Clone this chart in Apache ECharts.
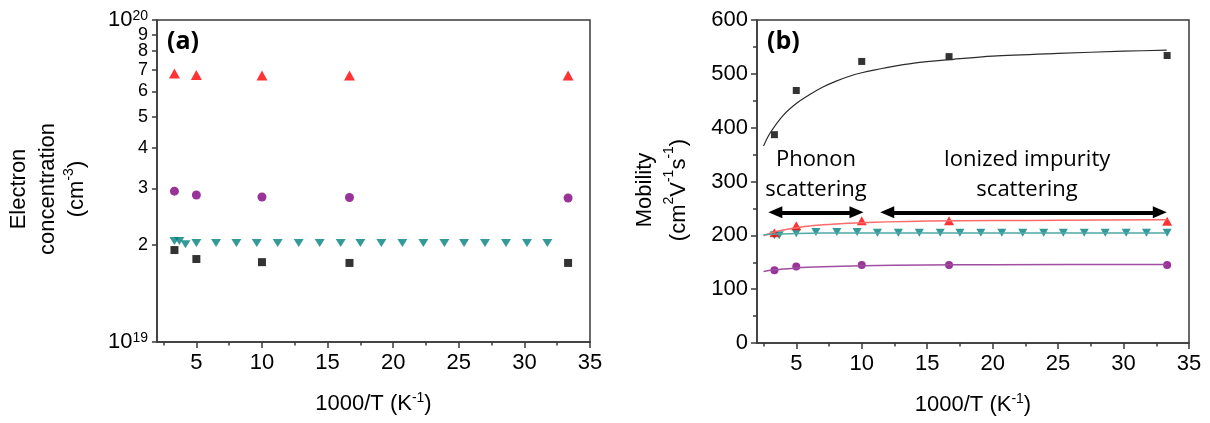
<!DOCTYPE html>
<html><head><meta charset="utf-8">
<script src="https://cdn.jsdelivr.net/npm/echarts@6/dist/echarts.min.js"></script>
<style>html,body{margin:0;padding:0;background:#fff}#c{width:1210px;height:423px}</style>
</head><body><div id="c"></div>
<script>
// ---------- tick values ----------
const xTickLabels = [5, 10, 15, 20, 25, 30, 35];
const xMinorTicks = [2.5, 7.5, 12.5, 17.5, 22.5, 27.5, 32.5];
const concTicks = [1, 2, 3, 4, 5, 6, 7, 8];  // x 1e19 cm^-3
const concTick9 = [9];                       // x 1e19 cm^-3
const concTopTick = [9.99999];               // x 1e19 cm^-3  (= 10^20)

// ---------- panel (a): electron concentration (x 1e19 cm^-3) ----------
const xSamples = [3.33, 5, 10, 16.67, 33.33];
const concBlack = [1.93, 1.81, 1.77, 1.76, 1.76];
const concRed = [6.82, 6.75, 6.72, 6.72, 6.72];
const concPurple = [2.94, 2.86, 2.82, 2.81, 2.80];
const xTealA = [3.33, 3.7, 4.17, 5, 6.5, 8.05, 9.6, 11.2, 12.8, 14.4, 16, 17.5, 19.1, 20.7, 22.3, 23.9, 25.4, 27, 28.6, 30.2, 31.75];
const concTeal = [2.06, 2.06, 2.01, 2.03, 2.03, 2.03, 2.03, 2.03, 2.03, 2.03, 2.03, 2.03, 2.03, 2.03, 2.03, 2.03, 2.03, 2.03, 2.03, 2.03, 2.03];

// ---------- panel (b): mobility (cm^2 V^-1 s^-1) ----------
const mobBlack = [387, 469, 523, 532, 534];
const mobRed = [205, 218, 227, 227, 226];
const mobPurple = [135, 142, 145, 145, 145];
const xTealB = [3.33, 3.7, 5, 6.5, 8.1, 9.65, 11.2, 12.8, 14.4, 16, 17.5, 19.1, 20.7, 22.3, 23.9, 25.4, 27, 28.6, 30.2, 31.75, 33.33];
const mobTeal = [200, 200, 204, 206, 206, 206, 205, 205, 205, 205, 205, 205, 205, 205, 205, 205, 205, 205, 205, 205, 205];

// fitted curves
const fitBlackX = [2.5, 3, 4, 5, 6, 7, 8, 9, 10, 12, 14, 17, 20, 25, 30, 33.3];
const fitBlackY = [366, 390, 423, 445, 461, 475, 486, 495, 502, 512, 520, 527, 533, 538, 542, 544];
const fitRedX = [2.5, 3, 4, 5, 6, 7, 8, 10, 12, 15, 20, 25, 33.3];
const fitRedY = [199, 204, 210, 214, 217.5, 219.5, 221, 223.5, 225, 226.5, 227.5, 228, 229];
const fitTealX = [2.5, 3.5, 5, 7, 10, 33.3];
const fitTealY = [201, 202.5, 203.5, 204.2, 204.5, 204.5];
const fitPurpleX = [2.5, 3, 4, 5, 7, 10, 15, 20, 33.3];
const fitPurpleY = [133, 135, 137.5, 139.5, 141.5, 143.5, 145, 145.5, 146];

// annotation arrows (data coords of the two arrow-head centres) [x1, x2, y]
const arrowPhonon = [3.4, 9.6, 242.8];
const arrowIonized = [11.95, 32.77, 242.8];

const zip = (xs, ys, k) => xs.map((x, i) => [x, ys[i] * (k || 1)]);

const FONT = '"Liberation Sans", Arial, sans-serif';
const AX = '#3a3a3a';
const supRich = { s: { fontSize: 14, verticalAlign: 'top', lineHeight: 14, fontFamily: FONT, color: '#000' } };

function xAxisMain(grid) {
  return {
    gridIndex: grid, type: 'value', min: 2, max: 35,
    axisLine: { show: true, onZero: false, lineStyle: { color: AX, width: 1.5 } },
    axisTick: { show: true, customValues: xTickLabels, length: 6, lineStyle: { color: AX, width: 1.5 } },
    axisLabel: { customValues: xTickLabels, margin: 10, fontSize: 22, fontFamily: FONT, color: '#000', hideOverlap: false },
    splitLine: { show: false },
    name: '1000/T (K{s|-1})', nameLocation: 'middle', nameGap: 49,
    nameTextStyle: { fontSize: 22, fontFamily: FONT, color: '#000', lineHeight: 26, rich: supRich }
  };
}
function xAxisMinor(grid) {
  return {
    gridIndex: grid, type: 'value', min: 2, max: 35, position: 'bottom',
    axisLine: { show: false },
    axisTick: { show: true, customValues: xMinorTicks, length: 3.5, lineStyle: { color: AX, width: 1.5 } },
    axisLabel: { show: false }, splitLine: { show: false }
  };
}

const logLabelFormatter = function (v) {
  const m = Math.round(v / 1e19);
  if (m === 1) return '{b|10}{s|19}';
  if (m === 10) return '{b|10}{s|20}';
  return '{d|' + m + '}';
};
const logLabelRich = {
  b: { fontSize: 22, fontFamily: FONT, color: '#000', lineHeight: 22 },
  s: { fontSize: 14, fontFamily: FONT, color: '#000', verticalAlign: 'top', lineHeight: 12 },
  d: { fontSize: 18, fontFamily: FONT, color: '#000', lineHeight: 14 }
};
// overlay log axis that only carries extra labels (so no label hides another)
function logLabelOverlay(values) {
  return {
    gridIndex: 0, type: 'log', logBase: 10, min: 1e19, max: 1e20, position: 'left',
    axisLine: { show: false }, axisTick: { show: false }, splitLine: { show: false },
    axisLabel: {
      customValues: values.map(v => v * 1e19), margin: 9, color: '#000', fontFamily: FONT,
      hideOverlap: false, showMinLabel: true, showMaxLabel: true,
      formatter: logLabelFormatter, rich: logLabelRich
    }
  };
}

const nameRich = {
  s: { font: '14px "Liberation Sans", Arial, sans-serif', fill: '#000', verticalAlign: 'top', lineHeight: 14 }
};

const chart = echarts.init(document.getElementById('c'), null, { renderer: 'canvas' });
chart.setOption({
  animation: false,
  backgroundColor: '#fff',
  grid: [
    { left: 157, top: 20, width: 433, height: 322, show: true, borderColor: AX, borderWidth: 1.5, backgroundColor: 'transparent' },
    { left: 757, top: 20, width: 432, height: 323, show: true, borderColor: AX, borderWidth: 1.5, backgroundColor: 'transparent' }
  ],
  xAxis: [xAxisMain(0), xAxisMinor(0), xAxisMain(1), xAxisMinor(1)],
  yAxis: [
    {
      gridIndex: 0, type: 'log', logBase: 10, min: 1e19, max: 1e20,
      axisLine: { show: true, onZero: false, lineStyle: { color: AX, width: 1.5 } },
      axisTick: { show: true, customValues: concTicks.concat(concTick9, concTopTick).map(v => v * 1e19), length: 5, lineStyle: { color: AX, width: 1.5 } },
      axisLabel: {
        customValues: concTicks.map(v => v * 1e19), margin: 9, color: '#000', fontFamily: FONT,
        hideOverlap: false, showMinLabel: true, showMaxLabel: true,
        formatter: logLabelFormatter, rich: logLabelRich
      },
      splitLine: { show: false }
    },
    {
      gridIndex: 1, type: 'value', min: 0, max: 600, interval: 100,
      axisLine: { show: true, onZero: false, lineStyle: { color: AX, width: 1.5 } },
      axisTick: { show: true, length: 6, lineStyle: { color: AX, width: 1.5 } },
      minorTick: { show: true, splitNumber: 2, length: 4, lineStyle: { color: AX, width: 1.5 } },
      axisLabel: { margin: 9, fontSize: 22, fontFamily: FONT, color: '#000', hideOverlap: false },
      splitLine: { show: false }, minorSplitLine: { show: false }
    },
    logLabelOverlay(concTick9),
    logLabelOverlay(concTopTick)
  ],
  series: [
    // panel (a)
    { type: 'scatter', xAxisIndex: 0, yAxisIndex: 0, symbol: 'rect', symbolSize: 8, itemStyle: { color: '#000' }, data: zip(xSamples, concBlack, 1e19) },
    { type: 'scatter', xAxisIndex: 0, yAxisIndex: 0, symbol: 'triangle', symbolSize: [11, 10], itemStyle: { color: '#ff0000' }, data: zip(xSamples, concRed, 1e19) },
    { type: 'scatter', xAxisIndex: 0, yAxisIndex: 0, symbol: 'circle', symbolSize: 9, itemStyle: { color: '#800080' }, data: zip(xSamples, concPurple, 1e19) },
    { type: 'scatter', xAxisIndex: 0, yAxisIndex: 0, symbol: 'triangle', symbolRotate: 180, symbolSize: [10, 8], itemStyle: { color: '#008080' }, data: zip(xTealA, concTeal, 1e19) },
    // panel (b) fits
    { type: 'line', xAxisIndex: 2, yAxisIndex: 1, smooth: 0.3, showSymbol: false, lineStyle: { color: '#2b2b2b', width: 1.2 }, data: zip(fitBlackX, fitBlackY),
      markLine: {
        silent: true, symbol: ['triangle', 'triangle'], symbolSize: [12, 14], label: { show: false },
        lineStyle: { color: '#000', width: 4, type: 'solid' },
        data: [
          [{ coord: [arrowPhonon[0], arrowPhonon[2]] }, { coord: [arrowPhonon[1], arrowPhonon[2]] }],
          [{ coord: [arrowIonized[0], arrowIonized[2]] }, { coord: [arrowIonized[1], arrowIonized[2]] }]
        ]
      }
    },
    { type: 'line', xAxisIndex: 2, yAxisIndex: 1, smooth: 0.3, showSymbol: false, lineStyle: { color: '#ff6a6a', width: 1.5 }, data: zip(fitRedX, fitRedY) },
    { type: 'line', xAxisIndex: 2, yAxisIndex: 1, smooth: 0.3, showSymbol: false, lineStyle: { color: '#4fa8a8', width: 1.5 }, data: zip(fitTealX, fitTealY) },
    { type: 'line', xAxisIndex: 2, yAxisIndex: 1, smooth: 0.3, showSymbol: false, lineStyle: { color: '#a04ea0', width: 1.5 }, data: zip(fitPurpleX, fitPurpleY) },
    // panel (b) points
    { type: 'scatter', xAxisIndex: 2, yAxisIndex: 1, symbol: 'rect', symbolSize: 7, itemStyle: { color: '#000' }, data: zip(xSamples, mobBlack) },
    { type: 'scatter', xAxisIndex: 2, yAxisIndex: 1, symbol: 'triangle', symbolRotate: 180, symbolSize: [9, 8], itemStyle: { color: '#008080' }, data: zip(xTealB, mobTeal) },
    { type: 'scatter', xAxisIndex: 2, yAxisIndex: 1, symbol: 'triangle', symbolSize: [10, 9], itemStyle: { color: '#ff0000' }, data: zip(xSamples, mobRed) },
    { type: 'scatter', xAxisIndex: 2, yAxisIndex: 1, symbol: 'circle', symbolSize: 8, itemStyle: { color: '#800080' }, data: zip(xSamples, mobPurple) }
  ],
  graphic: [
    { type: 'text', x: 48, y: 189, rotation: Math.PI / 2,
      style: { text: 'Electron\nconcentration\n(cm{s|-3})', font: '22px "Liberation Sans", Arial, sans-serif', fill: '#000', align: 'center', verticalAlign: 'middle', lineHeight: 29, rich: nameRich } },
    { type: 'text', x: 662, y: 190, rotation: Math.PI / 2,
      style: { text: 'Mobility\n(cm{s|2}V{s|-1}s{s|-1})', font: '22px "Liberation Sans", Arial, sans-serif', fill: '#000', align: 'center', verticalAlign: 'middle', lineHeight: 34, rich: nameRich } },
    { type: 'text', left: 167, top: 29, style: { text: '(a)', font: 'bold 25px "Open Sans", sans-serif', fill: '#000' } },
    { type: 'text', left: 767, top: 29, style: { text: '(b)', font: 'bold 25px "Open Sans", sans-serif', fill: '#000' } },
    { type: 'text', x: 816, y: 175, style: { text: 'Phonon\nscattering', font: '22px "Open Sans", sans-serif', lineHeight: 30, fill: '#000', align: 'center', verticalAlign: 'middle' } },
    { type: 'text', x: 1027, y: 175, style: { text: 'Ionized impurity\nscattering', font: '22px "Open Sans", sans-serif', lineHeight: 30, fill: '#000', align: 'center', verticalAlign: 'middle' } }
  ]
});
</script>
</body></html>
